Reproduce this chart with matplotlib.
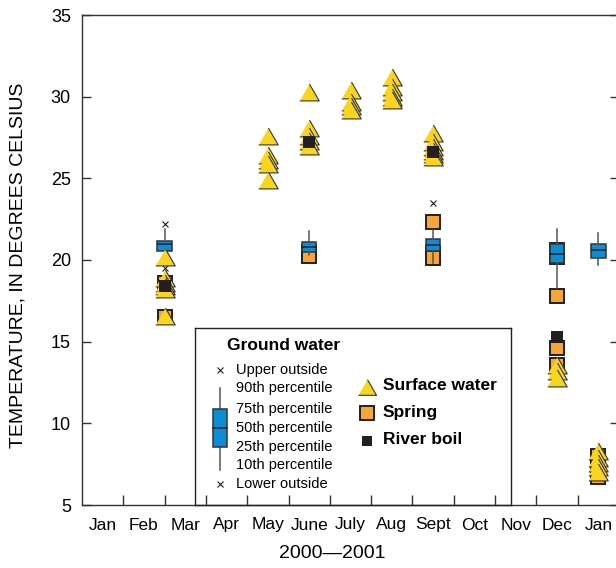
import matplotlib
matplotlib.use("Agg")
import matplotlib.pyplot as plt

plt.rcParams['font.family'] = ['Liberation Sans', 'DejaVu Sans']

# Month labels (Jan 2000 .. Jan 2001), one per month bin
month_labels = ['Jan', 'Feb', 'Mar', 'Apr', 'May', 'June', 'July', 'Aug',
                'Sept', 'Oct', 'Nov', 'Dec', 'Jan']

# Sampling visits, position in months from start of Jan 2000
visit_pos = [2.0, 4.5, 5.5, 6.5, 7.5, 8.5, 11.5, 12.5]

# Temperatures (deg C) per visit
surface_temp = [[20.2, 18.9, 18.6, 18.4, 18.2, 16.6],
                [27.6, 26.4, 26.1, 25.9, 24.9],
                [30.3, 28.1, 27.6, 27.3, 27.0],
                [30.4, 29.7, 29.4, 29.2],
                [31.2, 30.6, 30.3, 30.0, 29.8],
                [27.8, 27.2, 26.9, 26.7, 26.5, 26.3],
                [13.6, 13.2, 12.8],
                [8.3, 7.9, 7.6, 7.3, 7.0]]
spring_temp = [[18.6, 16.5], [], [20.5, 20.25], [], [],
               [22.3, 20.4, 20.1],
               [20.6, 20.2, 17.8, 14.6, 13.6],
               [8.0, 7.3, 6.7]]
river_boil_temp = [[18.4], [], [27.2], [], [], [26.6], [15.3], []]

# Ground water boxplots
gw_pos = [2.0, 5.5, 8.5, 11.5, 12.5]
gw_p10 = [20.3, 20.3, 19.8, 18.3, 19.7]
gw_p25 = [20.55, 20.5, 20.55, 19.8, 20.15]
gw_p50 = [20.95, 20.78, 20.9, 20.37, 20.6]
gw_p75 = [21.15, 21.1, 21.3, 20.98, 20.98]
gw_p90 = [21.9, 21.8, 21.85, 21.9, 21.65]
gw_outside = [[22.2, 19.5], [], [23.5], [], []]

yellow = '#FAD51E'
orange = '#F7A536'
blue = '#0B8ED6'
black = '#231F20'
tri = [(-1, -0.866), (1, -0.866), (0, 0.866)]

fig = plt.figure(figsize=(6.16, 5.68), dpi=100)
ax = fig.add_axes([82 / 616, 63 / 568, 537 / 616, 490 / 568])

# spring squares
for x, temps in zip(visit_pos, spring_temp):
    ax.plot([x] * len(temps), temps, ls='none', marker='s', ms=10,
            mfc=orange, mec=black, mew=1.4, zorder=2)

# ground water boxes
stats = []
for i in range(len(gw_pos)):
    stats.append(dict(whislo=gw_p10[i], q1=gw_p25[i], med=gw_p50[i],
                      q3=gw_p75[i], whishi=gw_p90[i], fliers=gw_outside[i]))
ax.bxp(stats, positions=gw_pos, widths=0.35, patch_artist=True,
       showcaps=False, manage_ticks=False,
       boxprops=dict(facecolor=blue, edgecolor='#333333', linewidth=1.1),
       medianprops=dict(color=black, linewidth=1.1),
       whiskerprops=dict(color='#555555', linewidth=1.1),
       flierprops=dict(marker='x', markersize=5, markeredgecolor=black,
                       markeredgewidth=0.8),
       zorder=3)

# surface water triangles
for x, temps in zip(visit_pos, surface_temp):
    ax.plot([x] * len(temps), temps, ls='none', marker=tri, ms=14,
            mfc=yellow, mec='#333333', mew=0.8, zorder=4)

# river boil squares
for x, temps in zip(visit_pos, river_boil_temp):
    ax.plot([x] * len(temps), temps, ls='none', marker='s', ms=8.5,
            mfc=black, mec=black, mew=0, zorder=5)

ax.set_xlim(0, 13)
ax.set_ylim(5, 35)
ax.set_yticks([5, 10, 15, 20, 25, 30, 35])
ax.set_xticks(range(1, 13))
ax.set_xticklabels([])
ax.set_xticks([m + 0.5 for m in range(13)], minor=True)
ax.set_xticklabels(month_labels, minor=True)
ax.tick_params(axis='y', direction='in', length=6.5, width=1, right=True,
               labelsize=13, pad=8, color='#333333')
ax.tick_params(axis='x', which='major', direction='in', length=7, width=1,
               color='#333333')
ax.tick_params(axis='x', which='minor', length=0, labelsize=12.5, pad=9)
for s in ax.spines.values():
    s.set_color('#333333')
    s.set_linewidth(1)

ax.set_xlabel('2000\u20142001', fontsize=14)
ax.xaxis.set_label_coords((332 - 82) / 537, (505 - 545) / 490)
ax.set_ylabel('TEMPERATURE, IN DEGREES CELSIUS', fontsize=14)
ax.yaxis.set_label_coords((27 - 82) / 537, (505 - 265) / 490)

# legend box, drawn in its own pixel-like coordinates
lg = fig.add_axes([195 / 616, 63 / 568, 316 / 616, 177 / 568])
lg.set_xlim(195, 511)
lg.set_ylim(505, 328)
lg.set_xticks([])
lg.set_yticks([])
lg.patch.set_alpha(0)
for s in lg.spines.values():
    s.set_color(black)
    s.set_linewidth(1)

lg.text(227, 346, 'Ground water', fontsize=12.5, fontweight='bold',
        va='center', ha='left')
lg.plot([220, 220], [388, 470], color='#555555', lw=1.1)
lg.add_patch(plt.Rectangle((213, 409), 14, 38, facecolor=blue,
                           edgecolor='#333333', lw=1.1, zorder=3))
lg.plot([213, 227], [428, 428], color=black, lw=1.1, zorder=4)
lg.plot([220, 220], [370, 484], ls='none', marker='x', ms=5,
        mec=black, mew=0.8)
box_text = ['Upper outside', '90th percentile', '75th percentile',
            '50th percentile', '25th percentile', '10th percentile',
            'Lower outside']
box_text_y = [370, 388, 409, 428, 447, 465, 484]
for t, y in zip(box_text, box_text_y):
    lg.text(236, y, t, fontsize=10.5, va='center', ha='left')

lg.plot([367], [387], marker=tri, ms=13, mfc=yellow, mec='#333333', mew=0.8)
lg.plot([367], [413], marker='s', ms=9.5, mfc=orange, mec=black, mew=1.4)
lg.plot([367], [441], marker='s', ms=6.5, mfc=black, mec=black, mew=0)
for t, y in zip(['Surface water', 'Spring', 'River boil'], [386, 413, 440]):
    lg.text(383, y, t, fontsize=12.5, fontweight='bold', va='center',
            ha='left')

fig.savefig('out.png', dpi=100)
